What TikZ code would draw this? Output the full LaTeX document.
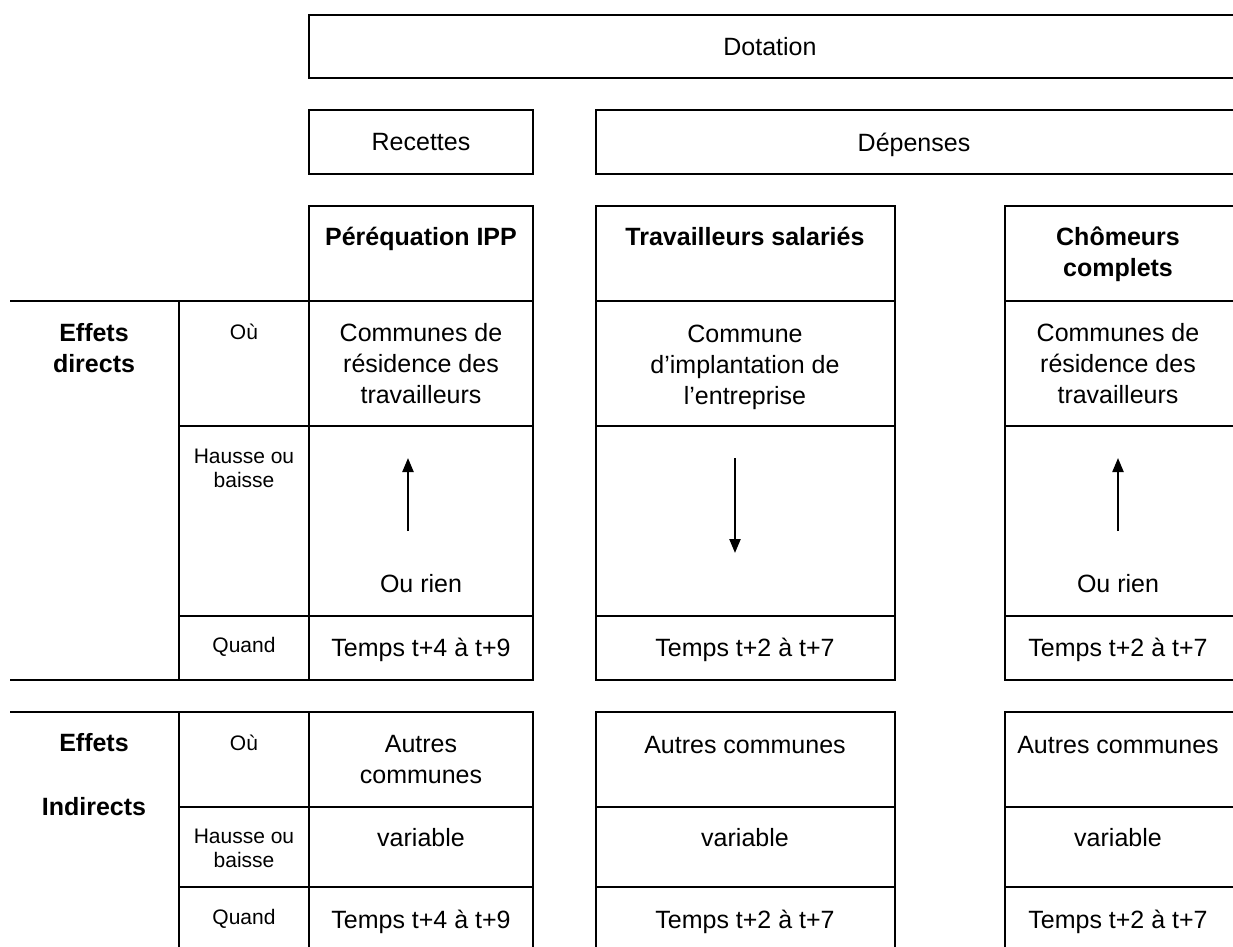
\documentclass[tikz,border=0pt]{standalone}
\usepackage{fontspec}
\setmainfont{Liberation Sans}
\usetikzlibrary{arrows.meta}

\tikzset{
  texte/.style={inner sep=0pt, align=center, font=\fontsize{12.5}{15.5}\selectfont},
  titre/.style={inner sep=0pt, align=center, font=\fontsize{12.5}{15.5}\selectfont\bfseries},
  petit/.style={inner sep=0pt, align=center, font=\fontsize{10.5}{12}\selectfont},
  fleche/.style={line width=1.1pt, -{Triangle[length=7pt,width=5.5pt]}}
}

\begin{document}
\begin{tikzpicture}[x=0.5pt, y=-0.5pt, line width=1.1pt]
  \useasboundingbox (0,0) rectangle (1233,947);

  % Dotation, recettes, depenses
  \draw (1240,15) -- (309,15) -- (309,78) -- (1240,78);
  \draw (309,110) rectangle (533,174);
  \draw (1240,110) -- (596,110) -- (596,174) -- (1240,174);

  % Colonnes
  \foreach \xa/\xb in {309/533, 596/895, 1005/1240} {
    \draw (\xa,206) rectangle (\xb,680);
    \draw (\xa,301) -- (\xb,301) (\xa,426) -- (\xb,426) (\xa,616) -- (\xb,616);
    \draw (\xa,712) rectangle (\xb,960);
    \draw (\xa,807) -- (\xb,807) (\xa,887) -- (\xb,887);
  }

  % Lignes de gauche
  \draw (10,301) -- (309,301);
  \draw (10,680) -- (309,680);
  \draw (179,301) -- (179,680);
  \draw (179,426) -- (309,426) (179,616) -- (309,616);
  \draw (10,712) -- (309,712);
  \draw (179,712) -- (179,960);
  \draw (179,807) -- (309,807) (179,887) -- (309,887);

  % En-tetes
  \node[texte] (dotation) at (770,47) {Dotation};
  \node[texte] (recettes) at (421,142) {Recettes};
  \node[texte] (depenses) at (914,145) {Dépenses};
  \node[titre] (perequation) at (421,239) {Péréquation IPP};
  \node[titre] (salaries) at (745,236) {Travailleurs salariés};
  \node[titre] (chomeurs) at (1118,254) {Chômeurs\\complets};

  % Effets directs
  \node[titre] (directs) at (94,348) {Effets\\directs};
  \node[petit] (ou1) at (244,332) {Où};
  \node[petit] (hausse1) at (244,468) {Hausse ou\\baisse};
  \node[petit] (quand1) at (244,647) {Quand};
  \node[texte] (lieu1) at (421,364) {Communes de\\résidence des\\travailleurs};
  \node[texte] (lieu2) at (745,367) {Commune\\d’implantation de\\l’entreprise};
  \node[texte] (lieu3) at (1118,364) {Communes de\\résidence des\\travailleurs};
  \node[texte] (rien1) at (421,584) {Ou rien};
  \node[texte] (rien3) at (1118,584) {Ou rien};
  \node[texte] (temps1) at (421,650) {Temps t+4 à t+9};
  \node[texte] (temps2) at (745,650) {Temps t+2 à t+7};
  \node[texte] (temps3) at (1118,650) {Temps t+2 à t+7};

  % Fleches
  \coordinate (bas1) at (408,531);
  \coordinate (haut1) at (408,458);
  \coordinate (haut2) at (735,458);
  \coordinate (bas2) at (735,553);
  \coordinate (bas3) at (1118,531);
  \coordinate (haut3) at (1118,458);
  \draw[fleche] (bas1) -- (haut1);
  \draw[fleche] (haut2) -- (bas2);
  \draw[fleche] (bas3) -- (haut3);

  % Effets indirects
  \node[titre] (indirects) at (94,775) {Effets\\[16.5pt]Indirects};
  \node[petit] (ou2) at (244,743) {Où};
  \node[petit] (hausse2) at (244,848) {Hausse ou\\baisse};
  \node[petit] (quand2) at (244,919) {Quand};
  \node[texte] (autres1) at (421,760) {Autres\\communes};
  \node[texte] (autres2) at (745,745) {Autres communes};
  \node[texte] (autres3) at (1118,745) {Autres communes};
  \node[texte] (var1) at (421,838) {variable};
  \node[texte] (var2) at (745,838) {variable};
  \node[texte] (var3) at (1118,838) {variable};
  \node[texte] (temps4) at (421,922) {Temps t+4 à t+9};
  \node[texte] (temps5) at (745,922) {Temps t+2 à t+7};
  \node[texte] (temps6) at (1118,922) {Temps t+2 à t+7};
\end{tikzpicture}
\end{document}
